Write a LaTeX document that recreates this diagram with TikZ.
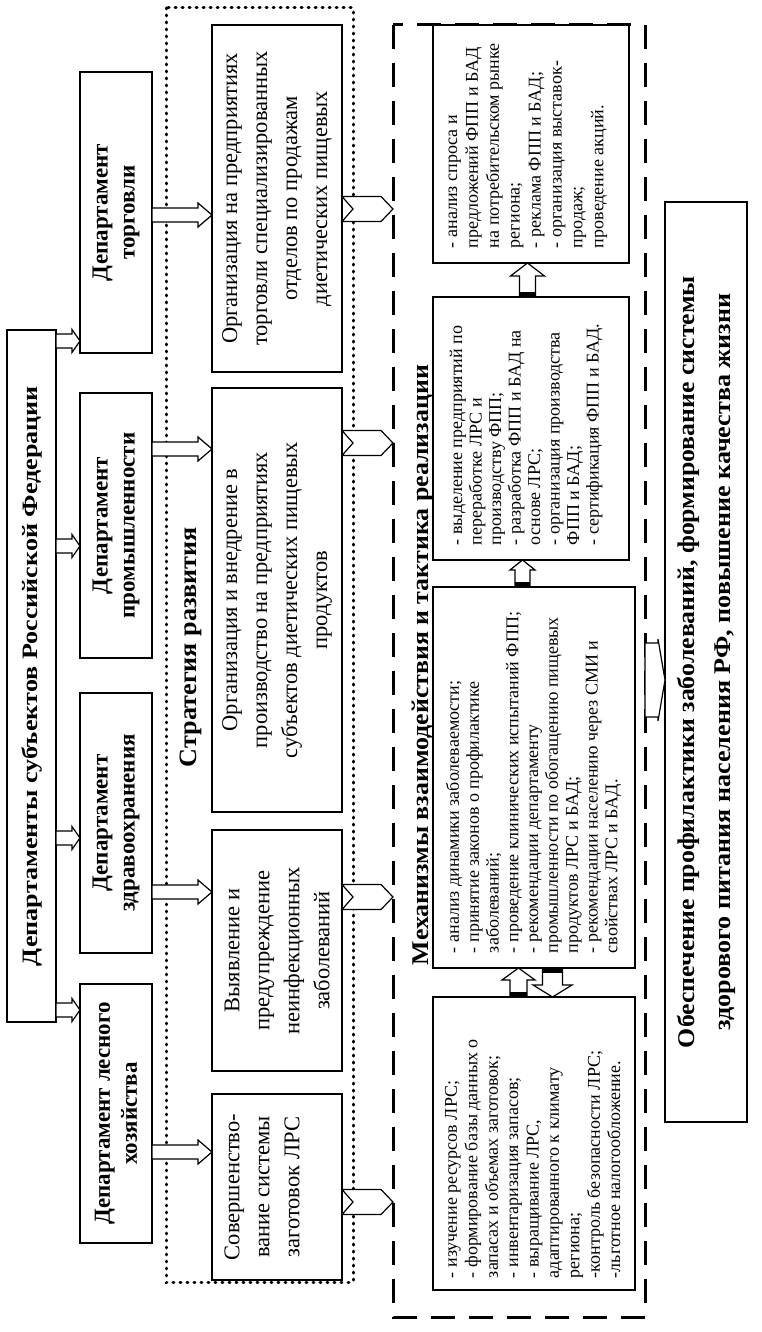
\documentclass[tikz,border=0pt]{standalone}
\usepackage{fontspec}
\usepackage{graphicx}
\setmainfont{Liberation Serif}
\usetikzlibrary{calc}
\newcommand\fitw[2]{\sbox0{#2}\scalebox{\fpeval{#1/\the\wd0}}[1]{\usebox0}}
\tikzset{
  box/.style={draw, line width=1.3pt, fill=white, inner sep=0pt, outer sep=0pt},
  dept/.style={box, minimum height=72, align=center, font=\bfseries\fontsize{23}{27}\selectfont},
  sbox/.style={box, minimum height=130, align=center, font=\fontsize{22.5}{30}\selectfont},
  tbox/.style={box, minimum height=202},
  ttext/.style={inner sep=0pt, outer sep=0pt, align=left, anchor=north west},
  ttl/.style={box, line width=1.5pt, font=\bfseries\fontsize{22}{26}\selectfont},
  lbl/.style={inner sep=0pt, font=\bfseries\fontsize{24}{28}\selectfont},
  dotbox/.style={draw, line width=3pt, dash pattern=on 0.8pt off 6.2pt, line cap=round, inner sep=0pt, outer sep=0pt},
  dashbox/.style={draw, line width=3pt, dash pattern=on 24pt off 14pt, inner sep=0pt, outer sep=0pt},
  finbox/.style={draw, line width=2.8pt, fill=white, inner sep=0pt, outer sep=0pt, align=center, font=\bfseries\fontsize{24}{36}\selectfont},
  blk/.style={draw, fill=white, line width=1.2pt, line join=miter},
}
% block arrow going down (landscape frame): X, from, to, shaft half, head half, head length
\newcommand\blkdown[6]{%
  \draw[blk] let \p1=(#2.south), \p2=(#3.north) in
    (#1-#4,\y1) -- (#1-#4,\y2+#6) -- (#1-#5,\y2+#6) -- (#1,\y2)
    -- (#1+#5,\y2+#6) -- (#1+#4,\y2+#6) -- (#1+#4,\y1) -- cycle;}
% chevron arrow going down: X, from, to, half width, notch, head length
\newcommand\blkchev[6]{%
  \draw[blk] let \p1=(#2.south), \p2=(#3.north) in
    (#1-#4,\y1) -- (#1,\y1-#5) -- (#1+#4,\y1) -- (#1+#4,\y2+#6)
    -- (#1,\y2) -- (#1-#4,\y2+#6) -- cycle;}
% block arrow going right: Y, from, to, shaft half, head half, head length
\newcommand\blkright[6]{%
  \draw[blk] let \p1=(#2.east), \p2=(#3.west) in
    (\x1,#1+#4) -- (\x2-#6,#1+#4) -- (\x2-#6,#1+#5) -- (\x2,#1)
    -- (\x2-#6,#1-#5) -- (\x2-#6,#1-#4) -- (\x1,#1-#4) -- cycle;
  \fill let \p1=(#2.east) in (\x1,#1-#4) rectangle (\x1+5,#1+#4);}
% block arrow going left
\newcommand\blkleft[6]{%
  \draw[blk] let \p1=(#2.west), \p2=(#3.east) in
    (\x1,#1+#4) -- (\x2+#6,#1+#4) -- (\x2+#6,#1+#5) -- (\x2,#1)
    -- (\x2+#6,#1-#5) -- (\x2+#6,#1-#4) -- (\x1,#1-#4) -- cycle;
  \fill let \p1=(#2.west) in (\x1-5,#1-#4) rectangle (\x1,#1+#4);}
\begin{document}
\begin{tikzpicture}[x=1pt,y=1pt]
\begin{scope}[rotate=90, transform shape]
\useasboundingbox (-1332,-762) rectangle (0,0);
\fill[white] (-1332,-762) rectangle (0,0);

% group frames
\node[dotbox, minimum width=1274, minimum height=187] (strat) at (-645,-259.5) {};
\node[dashbox, minimum width=1292, minimum height=252] (mech) at (-671,-519) {};
\node[lbl, font=\bfseries\fontsize{25}{28}\selectfont] (stratlbl) at (-647,-191) {\fitw{240}{Стратегия развития}};
\node[lbl] (mechlbl) at (-665,-423) {\fitw{600}{Механизмы взаимодействия и тактика реализации}};

% top title
\node[ttl, minimum width=692, minimum height=49] (big) at (-676,-31.5)
  {\fitw{580}{Департаменты субъектов Российской Федерации}};

% departments
\node[dept, minimum width=281] (tor) at (-212.5,-116) {Департамент\\торговли};
\node[dept, minimum width=265] (prom) at (-525.5,-116) {Департамент\\промышленности};
\node[dept, minimum width=260] (zdr) at (-823,-116) {Департамент\\здравоохранения};
\node[dept, minimum width=259] (les) at (-1113.5,-116) {Департамент лесного\\хозяйства};

% strategy boxes
\node[sbox, minimum width=347] (s1) at (-198.5,-277)
  {Организация на предприятиях\\торговли специализированных\\отделов по продажам\\диетических пищевых};
\node[sbox, minimum width=424] (s2) at (-600,-277)
  {Организация и внедрение в\\производство на предприятиях\\субъектов диетических пищевых\\продуктов};
\node[sbox, minimum width=241] (s3) at (-950.5,-277)
  {Выявление и\\предупреждение\\неинфекционных\\заболеваний};
\node[sbox, minimum width=186] (s4) at (-1187,-277)
  {Совершенство-\\вание системы\\заготовок ЛРС\\\mbox{}};

% tactic boxes
\node[tbox, minimum width=293] (t1) at (-1143.5,-534) {};
\node[tbox, minimum width=381] (t2) at (-777.5,-534) {};
\node[tbox, minimum width=263, minimum height=196] (t3) at (-428.5,-531) {};
\node[tbox, minimum width=238, minimum height=196] (t4) at (-144,-531) {};

\node[ttext, font=\fontsize{18}{20.4}\selectfont] (t1x) at ([shift={(12,-9.7)}]t1.north west)
  {\strut - изучение ресурсов ЛРС;\\
   - формирование базы данных о\\
   запасах и объемах заготовок;\\
   - инвентаризация запасов;\\
   - выращивание ЛРС,\\
   адаптированного к климату\\
   региона;\\
   -контроль безопасности ЛРС;\\
   -льготное налогообложение.};
\node[ttext, font=\fontsize{18}{19.8}\selectfont] (t2x) at ([shift={(15,-12.1)}]t2.north west)
  {\strut - анализ динамики заболеваемости;\\
   - принятие законов о профилактике\\
   заболеваний;\\
   - проведение клинических испытаний ФПП;\\
   - рекомендации департаменту\\
   промышленности по обогащению пищевых\\
   продуктов ЛРС и БАД;\\
   - рекомендации населению через СМИ и\\
   свойствах ЛРС и БАД.};
\node[ttext, font=\fontsize{18}{19.5}\selectfont] (t3x) at ([shift={(15,-15.4)}]t3.north west)
  {\strut - выделение предприятий по\\
   переработке ЛРС и\\
   производству ФПП;\\
   - разработка ФПП и БАД на\\
   основе ЛРС;\\
   - организация производства\\
   ФПП и БАД;\\
   - сертификация ФПП и БАД.};
\node[ttext, font=\fontsize{18}{20.9}\selectfont] (t4x) at ([shift={(15,-9.4)}]t4.north west)
  {\strut - анализ спроса и\\
   предложений ФПП и БАД\\
   на потребительском рынке\\
   региона;\\
   - реклама ФПП и БАД;\\
   - организация выставок-\\
   продаж;\\
   проведение акций.};

% final box
\node[finbox, minimum width=920, minimum height=82] (fin) at (-662,-706)
  {\fitw{772}{Обеспечение профилактики заболеваний, формирование системы}\\
   \fitw{737}{здорового питания населения РФ, повышение качества жизни}};

% arrows: title -> departments
\blkdown{-341}{big}{tor}{7}{11.5}{8}
\blkdown{-546}{big}{prom}{7}{11.5}{8}
\blkdown{-838}{big}{zdr}{7}{11.5}{8}
\blkdown{-1010}{big}{les}{7}{11.5}{8}

% departments -> strategy
\blkdown{-215}{tor}{s1}{7}{12}{14}
\blkdown{-449}{prom}{s2}{7}{12}{14}
\blkdown{-892}{zdr}{s3}{7}{12}{14}
\blkdown{-1152}{les}{s4}{7}{12}{14}

% strategy -> mechanisms
\blkchev{-209}{s1}{mech}{12.5}{11}{12}
\blkchev{-443}{s2}{mech}{12.5}{11}{12}
\blkchev{-897}{s3}{mech}{12.5}{11}{12}
\blkchev{-1202}{s4}{mech}{12.5}{11}{12}

% tactic arrows
\blkright{-518.5}{t1}{t2}{8.5}{16.5}{12}
\blkleft{-552.5}{t2}{t1}{10}{19.5}{12}
\blkright{-522.5}{t2}{t3}{7.5}{12.5}{10}
\blkright{-527.5}{t3}{t4}{8}{17}{13}

% mechanisms -> final
\blkdown{-680}{mech}{fin}{37}{41}{7}
\end{scope}
\end{tikzpicture}
\end{document}
